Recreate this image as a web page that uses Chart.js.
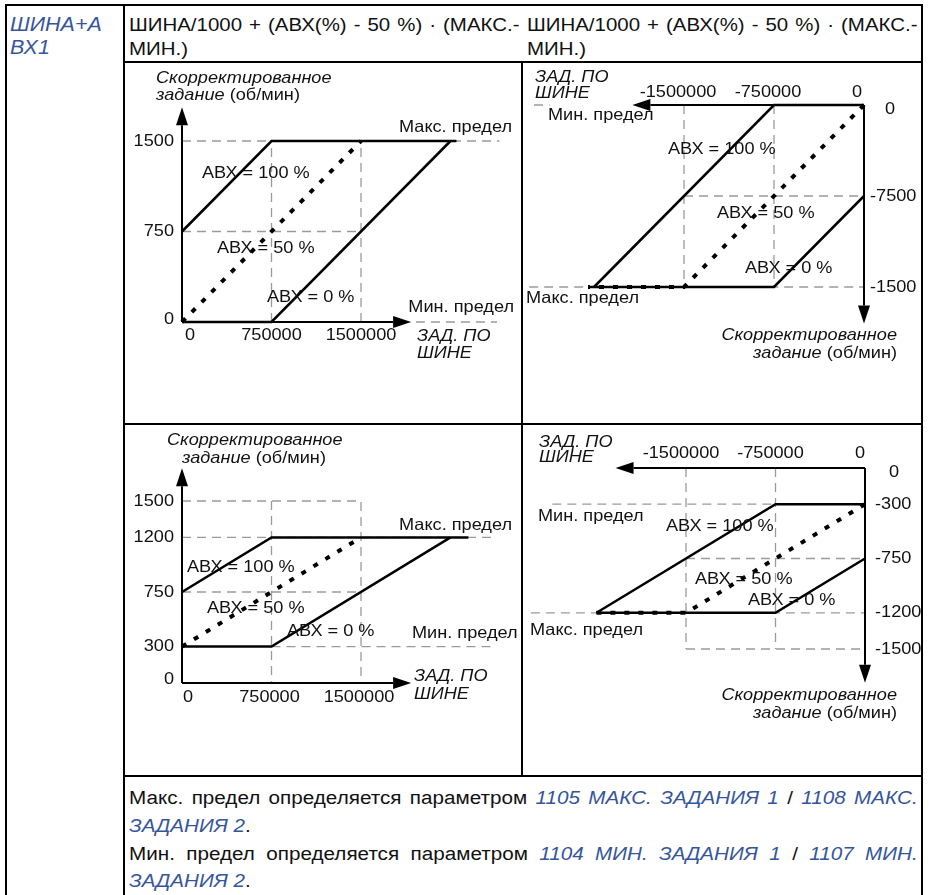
<!DOCTYPE html>
<html>
<head>
<meta charset="utf-8">
<script src="https://cdn.jsdelivr.net/npm/chart.js"></script>
<style>
  body { margin: 0; background: #fff; }
  #page { position: relative; width: 929px; height: 895px; overflow: hidden; background: #fff; }
  canvas { position: absolute; }
  .b { position: absolute; background: #000; z-index: 5; }
  .txt { position: absolute; font-family: "Liberation Sans", Arial, sans-serif; font-size: 18.6px; color: #111;
         transform: scaleX(1.1); transform-origin: 0 0; text-align: justify; z-index: 6; }
  .ref { color: #35559c; font-style: italic; }
</style>
</head>
<body>
<div id="page">
  <canvas id="c1" width="394" height="358" style="left:126px;top:64px"></canvas>
  <canvas id="c2" width="397" height="358" style="left:524px;top:64px"></canvas>
  <canvas id="c3" width="394" height="347" style="left:126px;top:426px"></canvas>
  <canvas id="c4" width="397" height="347" style="left:524px;top:426px"></canvas>

  <div class="b" style="left:5px;top:4px;width:918px;height:2px"></div>
  <div class="b" style="left:5px;top:4px;width:2px;height:891px"></div>
  <div class="b" style="left:921px;top:4px;width:2px;height:891px"></div>
  <div class="b" style="left:123px;top:4px;width:2px;height:891px"></div>
  <div class="b" style="left:521px;top:61px;width:2px;height:716px"></div>
  <div class="b" style="left:123px;top:61px;width:800px;height:2px"></div>
  <div class="b" style="left:123px;top:423px;width:800px;height:2px"></div>
  <div class="b" style="left:123px;top:775px;width:800px;height:2px"></div>

  <div class="txt ref" style="left:10px;top:13px;width:100px;line-height:23px;text-align:left;font-size:19.5px">ШИНА+А<br>ВХ1</div>
  <div class="txt" style="left:129px;top:13px;width:355px;line-height:24px">ШИНА/1000 + (АВХ(%) - 50 %) · (МАКС.-<wbr>МИН.)</div>
  <div class="txt" style="left:527px;top:13px;width:355px;line-height:24px">ШИНА/1000 + (АВХ(%) - 50 %) · (МАКС.-<wbr>МИН.)</div>
  <div class="txt" style="left:129px;top:784px;width:717px;line-height:28px;font-size:18.8px">
    Макс. предел определяется параметром <span class="ref">1105 МАКС. ЗАДАНИЯ 1</span> / <span class="ref">1108 МАКС. ЗАДАНИЯ 2</span>.
  </div>
  <div class="txt" style="left:129px;top:840px;width:717px;line-height:27px;font-size:18.8px">
    Мин. предел определяется параметром <span class="ref">1104 МИН. ЗАДАНИЯ 1</span> / <span class="ref">1107 МИН. ЗАДАНИЯ 2</span>.
  </div>
</div>

<script>
// ---- top left: positive bus reference, min 0 / max 1500
const c1XTicks = [0, 750000, 1500000];
const c1XLabels = ['0', '750000', '1500000'];
const c1YTicks = [0, 750, 1500];
const c1YLabels = ['0', '750', '1500'];
const c1Ai100 = [[0, 750], [750000, 1500], [2300000, 1500]];
const c1Ai50 = [[0, 0], [1500000, 1500], [2300000, 1500]];
const c1Ai0 = [[0, 0], [750000, 0], [2250000, 1500]];
const c1Guides = [
  [[0, 1500], [2660000, 1500]],
  [[0, 750], [1500000, 750]],
  [[750000, 0], [750000, 1500]],
  [[1500000, 0], [1500000, 1500]],
  [[1960000, 0], [2640000, 0]]
];

// ---- top right: negative bus reference
const c2XTicks = [-1500000, -750000, 0];
const c2XLabels = ['-1500000', '-750000', '0'];
const c2YTicks = [0, -750, -1500];
const c2YLabels = ['0', '-7500', '-1500'];
const c2Ai100 = [[0, 0], [-750000, 0], [-2250000, -1500]];
const c2Ai50 = [[0, 0], [-1500000, -1500], [-2300000, -1500]];
const c2Ai0 = [[0, -750], [-750000, -1500], [-2300000, -1500]];
const c2Guides = [
  [[-2750000, 0], [-2620000, 0]],
  [[-1500000, -750], [0, -750]],
  [[-2790000, -1500], [0, -1500]],
  [[-1500000, 0], [-1500000, -1500]],
  [[-750000, 0], [-750000, -1500]]
];

// ---- bottom left: min 300 / max 1200
const c3XTicks = [0, 750000, 1500000];
const c3XLabels = ['0', '750000', '1500000'];
const c3YTicks = [0, 300, 750, 1200, 1500];
const c3YLabels = ['0', '300', '750', '1200', '1500'];
const c3Ai100 = [[0, 750], [750000, 1200], [2400000, 1200]];
const c3Ai50 = [[0, 300], [1500000, 1200], [2400000, 1200]];
const c3Ai0 = [[0, 300], [750000, 300], [2250000, 1200]];
const c3Guides = [
  [[0, 1500], [1500000, 1500], [1500000, 0]],
  [[750000, 1500], [750000, 0]],
  [[0, 1200], [2590000, 1200]],
  [[0, 750], [1500000, 750]],
  [[750000, 300], [2590000, 300]]
];

// ---- bottom right: negative, min -300 / max -1200
const c4XTicks = [-1500000, -750000, 0];
const c4XLabels = ['-1500000', '-750000', '0'];
const c4YTicks = [0, -300, -750, -1200, -1500];
const c4YLabels = ['0', '-300', '-750', '-1200', '-1500'];
const c4Ai100 = [[0, -300], [-750000, -300], [-2250000, -1200]];
const c4Ai50 = [[0, -300], [-1500000, -1200], [-2250000, -1200]];
const c4Ai0 = [[0, -750], [-750000, -1200], [-2250000, -1200]];
const c4Guides = [
  [[-2620000, -300], [0, -300]],
  [[-1500000, -750], [0, -750]],
  [[-2800000, -1200], [0, -1200]],
  [[-1500000, -1500], [0, -1500]],
  [[-1500000, 0], [-1500000, -1500]],
  [[-750000, 0], [-750000, -1500]]
];

const FF = '"Liberation Sans", Arial, sans-serif';
const FS = 16.5;
const SX = 1.1;

function pts(arr) {
  return arr.map(p => ({ x: p[0], y: p[1] }));
}

function drawText(ctx, parts, x, y, align) {
  const w = parts.map(([t, it]) => {
    ctx.font = (it ? 'italic ' : '') + FS + 'px ' + FF;
    return ctx.measureText(t).width * SX;
  });
  const total = w.reduce((a, b) => a + b, 0);
  let cx = align === 'right' ? x - total : align === 'center' ? x - total / 2 : x;
  parts.forEach(([t, it], i) => {
    ctx.save();
    ctx.font = (it ? 'italic ' : '') + FS + 'px ' + FF;
    ctx.textAlign = 'left';
    ctx.textBaseline = 'middle';
    ctx.translate(cx, y);
    ctx.scale(SX, 1);
    ctx.fillText(t, 0, 0);
    ctx.restore();
    cx += w[i];
  });
}

function arrow(ctx, x0, y0, x1, y1) {
  const len = 18, hw = 6;
  const a = Math.atan2(y1 - y0, x1 - x0);
  const bx = x1 - len * Math.cos(a), by = y1 - len * Math.sin(a);
  ctx.beginPath();
  ctx.moveTo(x0, y0);
  ctx.lineTo(bx, by);
  ctx.stroke();
  ctx.beginPath();
  ctx.moveTo(x1, y1);
  ctx.lineTo(bx + hw * Math.sin(a), by - hw * Math.cos(a));
  ctx.lineTo(bx - hw * Math.sin(a), by + hw * Math.cos(a));
  ctx.closePath();
  ctx.fill();
}

function sketch(cfg) {
  return {
    id: 'sketch',
    afterDatasetsDraw(chart) {
      const ctx = chart.ctx;
      const px = v => chart.scales.x.getPixelForValue(v);
      const py = v => chart.scales.y.getPixelForValue(v);
      ctx.save();
      ctx.strokeStyle = '#000';
      ctx.fillStyle = '#000';
      ctx.lineWidth = 2;
      arrow(ctx, px(0), py(0), px(cfg.xEnd), py(0));
      arrow(ctx, px(0), py(0), px(0), py(cfg.yEnd));
      ctx.fillStyle = '#111';
      cfg.xTicks.forEach((v, i) => {
        drawText(ctx, [[cfg.xLabels[i], false]], px(v) + (v === 0 ? cfg.x0dx : cfg.xdx), py(0) + cfg.xdy, 'center');
      });
      cfg.yTicks.forEach((v, i) => {
        const z = v === 0;
        drawText(ctx, [[cfg.yLabels[i], false]], px(0) + (z ? cfg.y0dx : cfg.ydx), py(v) + (z ? cfg.y0dy : 0), cfg.yAlign);
      });
      cfg.notes.forEach(n => drawText(ctx, n.p, n.x - cfg.left, n.y - cfg.top, n.a));
      ctx.restore();
    }
  };
}

function makeChart(id, cfg) {
  const datasets = [];
  cfg.guides.forEach(g => datasets.push({
    data: pts(g), borderColor: '#9a9a9a', borderWidth: 1.3, borderDash: [9, 6],
    pointRadius: 0, clip: false, order: 3, tension: 0
  }));
  datasets.push({ data: pts(cfg.ai100), borderColor: '#000', borderWidth: 2.5, pointRadius: 0, clip: false, order: 2 });
  datasets.push({ data: pts(cfg.ai0), borderColor: '#000', borderWidth: 2.5, pointRadius: 0, clip: false, order: 2 });
  datasets.push({ data: pts(cfg.ai50), borderColor: '#000', borderWidth: 4, borderDash: [5, 9], pointRadius: 0, clip: false, order: 1 });

  new Chart(document.getElementById(id), {
    type: 'line',
    data: { datasets: datasets },
    options: {
      responsive: false,
      animation: false,
      events: [],
      layout: { padding: cfg.pad },
      plugins: { legend: { display: false }, tooltip: { enabled: false } },
      scales: {
        x: { type: 'linear', min: cfg.xr[0], max: cfg.xr[1], display: false },
        y: { type: 'linear', min: cfg.yr[0], max: cfg.yr[1], display: false }
      }
    },
    plugins: [sketch(cfg)]
  });
}

const yTitle1 = [['Скорректированное', true]];
const yTitle2 = [['задание', true], [' (об/мин)', false]];
const busTitle1 = [['ЗАД. ПО', true]];
const busTitle2 = [['ШИНЕ', true]];
const ai100 = [['АВХ = 100 %', false]];
const ai50 = [['АВХ = 50 %', false]];
const ai0 = [['АВХ = 0 %', false]];
const maxLim = [['Макс. предел', false]];
const minLim = [['Мин. предел', false]];

makeChart('c1', {
  left: 126, top: 64,
  pad: { left: 56, right: 159, top: 77, bottom: 100 },
  xr: [0, 1500000], yr: [0, 1500], xEnd: 1920000, yEnd: 1780,
  guides: c1Guides, ai100: c1Ai100, ai50: c1Ai50, ai0: c1Ai0,
  xTicks: c1XTicks, xLabels: c1XLabels, xdx: 0, x0dx: 8, xdy: 13,
  yTicks: c1YTicks, yLabels: c1YLabels, ydx: -8, y0dx: -8, y0dy: -3, yAlign: 'right',
  notes: [
    { p: yTitle1, x: 156, y: 78, a: 'left' },
    { p: yTitle2, x: 156, y: 95, a: 'left' },
    { p: maxLim, x: 512, y: 127, a: 'right' },
    { p: ai100, x: 202, y: 173, a: 'left' },
    { p: ai50, x: 217, y: 248, a: 'left' },
    { p: ai0, x: 267, y: 297, a: 'left' },
    { p: minLim, x: 514, y: 307, a: 'right' },
    { p: busTitle1, x: 417, y: 336, a: 'left' },
    { p: busTitle2, x: 417, y: 353, a: 'left' }
  ]
});

makeChart('c2', {
  left: 524, top: 64,
  pad: { left: 160, right: 57, top: 41, bottom: 135 },
  xr: [-1500000, 0], yr: [-1500, 0], xEnd: -1930000, yEnd: -1800,
  guides: c2Guides, ai100: c2Ai100, ai50: c2Ai50, ai0: c2Ai0,
  xTicks: c2XTicks, xLabels: c2XLabels, xdx: -6, x0dx: -7, xdy: -13,
  yTicks: c2YTicks, yLabels: c2YLabels, ydx: 6, y0dx: 21, y0dy: 4, yAlign: 'left',
  notes: [
    { p: busTitle1, x: 535, y: 77, a: 'left' },
    { p: busTitle2, x: 535, y: 93, a: 'left' },
    { p: minLim, x: 548, y: 115, a: 'left' },
    { p: ai100, x: 668, y: 149, a: 'left' },
    { p: ai50, x: 717, y: 213, a: 'left' },
    { p: ai0, x: 745, y: 268, a: 'left' },
    { p: maxLim, x: 526, y: 298, a: 'left' },
    { p: yTitle1, x: 897, y: 335, a: 'right' },
    { p: yTitle2, x: 897, y: 353, a: 'right' }
  ]
});

makeChart('c3', {
  left: 126, top: 426,
  pad: { left: 56, right: 159, top: 75, bottom: 90 },
  xr: [0, 1500000], yr: [0, 1500], xEnd: 1920000, yEnd: 1770,
  guides: c3Guides, ai100: c3Ai100, ai50: c3Ai50, ai0: c3Ai0,
  xTicks: c3XTicks, xLabels: c3XLabels, xdx: -2, x0dx: 6, xdy: 14,
  yTicks: c3YTicks, yLabels: c3YLabels, ydx: -8, y0dx: -8, y0dy: -4, yAlign: 'right',
  notes: [
    { p: yTitle1, x: 167, y: 440, a: 'left' },
    { p: yTitle2, x: 182, y: 458, a: 'left' },
    { p: maxLim, x: 399, y: 525, a: 'left' },
    { p: ai100, x: 187, y: 567, a: 'left' },
    { p: ai50, x: 207, y: 608, a: 'left' },
    { p: ai0, x: 287, y: 631, a: 'left' },
    { p: minLim, x: 412, y: 633, a: 'left' },
    { p: busTitle1, x: 414, y: 676, a: 'left' },
    { p: busTitle2, x: 414, y: 694, a: 'left' }
  ]
});

makeChart('c4', {
  left: 524, top: 426,
  pad: { left: 162, right: 56, top: 42, bottom: 124 },
  xr: [-1500000, 0], yr: [-1500, 0], xEnd: -2090000, yEnd: -1780,
  guides: c4Guides, ai100: c4Ai100, ai50: c4Ai50, ai0: c4Ai0,
  xTicks: c4XTicks, xLabels: c4XLabels, xdx: -5, x0dx: -5, xdy: -15,
  yTicks: c4YTicks, yLabels: c4YLabels, ydx: 10, y0dx: 24, y0dy: 4, yAlign: 'left',
  notes: [
    { p: busTitle1, x: 539, y: 442, a: 'left' },
    { p: busTitle2, x: 539, y: 457, a: 'left' },
    { p: minLim, x: 538, y: 516, a: 'left' },
    { p: ai100, x: 666, y: 526, a: 'left' },
    { p: ai50, x: 695, y: 579, a: 'left' },
    { p: ai0, x: 748, y: 600, a: 'left' },
    { p: maxLim, x: 530, y: 630, a: 'left' },
    { p: yTitle1, x: 897, y: 695, a: 'right' },
    { p: yTitle2, x: 897, y: 713, a: 'right' }
  ]
});
</script>
</body>
</html>
